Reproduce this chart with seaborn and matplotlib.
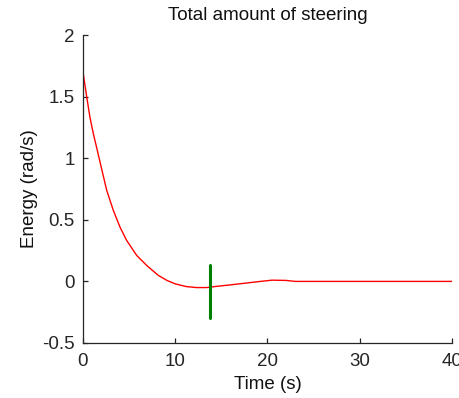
import numpy as np
import pandas as pd
import matplotlib
matplotlib.use("Agg")
import matplotlib.pyplot as plt
import seaborn as sns

# Steering energy over time
time_s = [0.0, 0.4, 0.76, 1.12, 1.5, 2.0, 2.57, 3.29, 4.01, 4.73, 5.82, 6.9,
          8.16, 9.1, 10.0, 11.2, 12.3, 13.4, 14.5, 16.0, 17.5, 19.0, 20.5,
          22.0, 23.0, 30.0, 40.0]
energy = [1.70, 1.50, 1.33, 1.20, 1.08, 0.92, 0.74, 0.576, 0.441, 0.333,
          0.211, 0.13, 0.049, 0.008, -0.02, -0.042, -0.05, -0.05, -0.04,
          -0.028, -0.015, -0.002, 0.01, 0.008, 0.0, 0.0, 0.0]

# Event marker
marker_time = [13.75, 13.75]
marker_span = [-0.3, 0.13]

x_ticks = [0, 10, 20, 30, 40]
y_ticks = [-0.5, 0, 0.5, 1, 1.5, 2]
y_tick_labels = ["-0.5", "0", "0.5", "1", "1.5", "2"]

sns.set_style("ticks")
plt.rcParams["font.family"] = ["Liberation Sans", "DejaVu Sans"]
ink = "#262626"
fs = 13.5

fig = plt.figure(figsize=(4.6, 3.98), dpi=100)
ax = fig.add_axes([0.1804, 0.1382, 0.8022, 0.7738])

df = pd.DataFrame({"Time": time_s, "Energy": energy})
sns.lineplot(data=df, x="Time", y="Energy", ax=ax, color="#ff0000",
             linewidth=1.0, estimator=None, sort=False)
mk = pd.DataFrame({"Time": marker_time, "Energy": marker_span})
sns.lineplot(data=mk, x="Time", y="Energy", ax=ax, color="#008000",
             linewidth=2.2, estimator=None, sort=False)

ax.set_xlim(0, 40)
ax.set_ylim(-0.5, 2)
ax.set_xticks(x_ticks)
ax.set_xticklabels([str(v) for v in x_ticks])
ax.set_yticks(y_ticks)
ax.set_yticklabels(y_tick_labels)

sns.despine(ax=ax)
for side in ("left", "bottom"):
    ax.spines[side].set_color(ink)
    ax.spines[side].set_linewidth(0.9)
ax.tick_params(direction="in", length=3.5, width=0.9, colors=ink,
               labelsize=fs, pad=6)
ax.tick_params(axis="x", pad=7)

ax.set_title("Total amount of steering", fontsize=fs, color="#111111", pad=11)
ax.set_xlabel("Time (s)", fontsize=fs, color="#111111", labelpad=4.5)
ax.set_ylabel("Energy (rad/s)", fontsize=fs, color="#111111", labelpad=3)

fig.savefig("out.png", dpi=100)
